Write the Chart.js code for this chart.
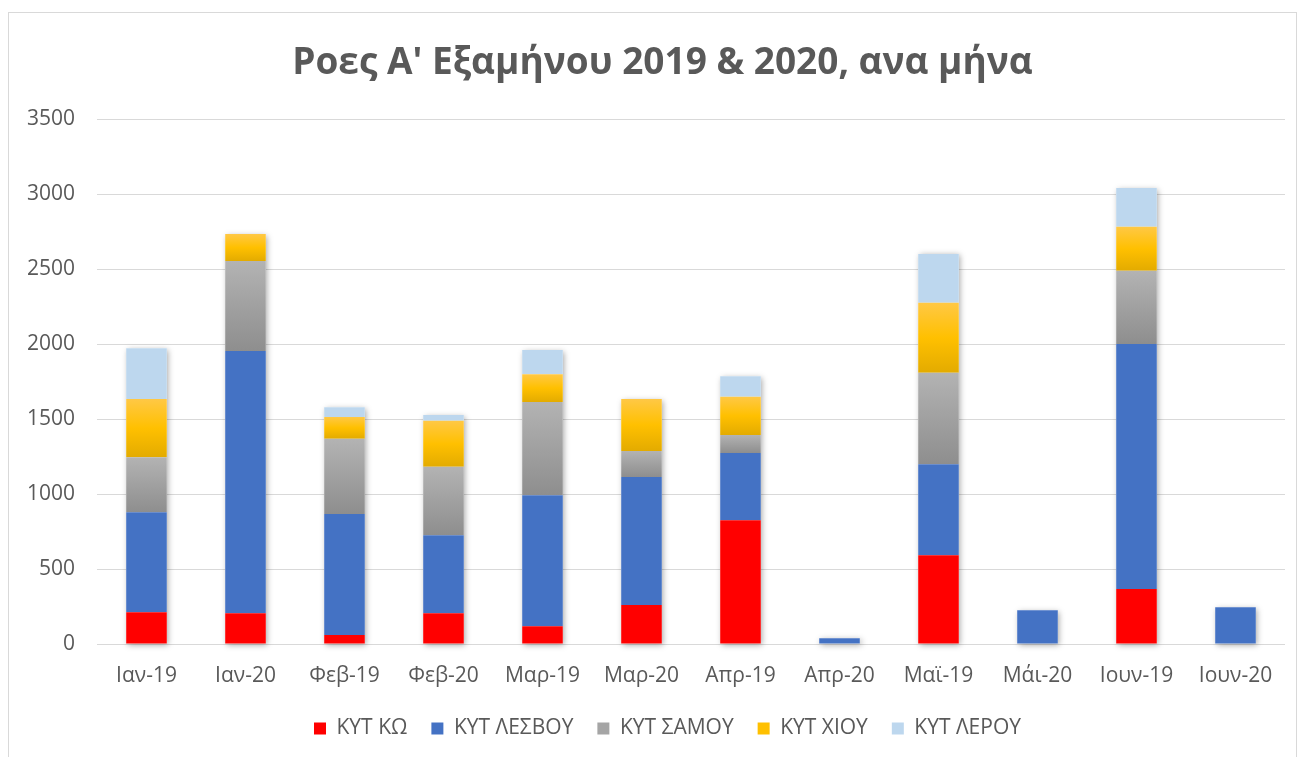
<!DOCTYPE html>
<html lang="el">
<head>
    <meta charset="UTF-8">
    <title>Ροες Α' Εξαμήνου 2019 & 2020</title>
    <script src="https://cdn.jsdelivr.net/npm/chart.js"></script>
    <style>
        html, body { margin: 0; padding: 0; background: #fff; }
        #wrap { width: 1303px; height: 757px; }
    </style>
</head>
<body>
<div id="wrap"><canvas id="roesChart" width="1303" height="757"></canvas></div>
<script>
    // Δεδομένα (εκτίμηση από την εικόνα)
    const months = ['Ιαν-19', 'Ιαν-20', 'Φεβ-19', 'Φεβ-20', 'Μαρ-19', 'Μαρ-20',
                    'Απρ-19', 'Απρ-20', 'Μαϊ-19', 'Μάι-20', 'Ιουν-19', 'Ιουν-20'];
    const kytKo     = [211, 205,  60, 205, 118, 260, 826,  0, 592,   0,  367,   0];
    const kytLesvou = [668, 1749, 808, 521, 875, 855, 449, 38, 608, 225, 1634, 245];
    const kytSamou  = [367, 601, 501, 456, 621, 173, 120,  0, 609,   0,  489,   0];
    const kytChiou  = [388, 180, 146, 307, 186, 346, 254,  0, 468,   0,  294,   0];
    const kytLerou  = [340,   0,  65,  38, 161,   0, 138,  0, 325,   0,  258,   0];
    const yTicks = [0, 500, 1000, 1500, 2000, 2500, 3000, 3500];

    const txt = '#595959';
    const font = "'Open Sans', sans-serif";
    const legendColors = ['#ff0000', '#4472c4', '#a5a5a5', '#ffc000', '#bdd7ee'];

    // κάθετη διαβάθμιση για κάθε τμήμα της στήλης
    function gradFill(stops, solid) {
        return function (c) {
            const chart = c.chart;
            if (c.type !== 'data' || !chart.chartArea) return solid;
            const ys = chart.scales.y;
            let base = 0;
            for (let i = 0; i < c.datasetIndex; i++) base += chart.data.datasets[i].data[c.dataIndex];
            const v = chart.data.datasets[c.datasetIndex].data[c.dataIndex];
            const top = ys.getPixelForValue(base + v), bot = ys.getPixelForValue(base);
            if (bot - top < 1) return solid;
            const g = chart.ctx.createLinearGradient(0, top, 0, bot);
            stops.forEach(s => g.addColorStop(s[0], s[1]));
            return g;
        };
    }

    const grayFill = gradFill([[0, '#b3b3b3'], [1, '#8e8e8e']], '#a5a5a5');
    const yellowFill = gradFill([[0, '#ffc845'], [0.5, '#ffc000'], [1, '#e3ab00']], '#ffc000');

    const frame = {
        id: 'frame',
        afterLayout(chart) {
            // υπόμνημα και τίτλος λίγο δεξιότερα όπως στο πρωτότυπο
            chart.legend.left += 15;
            chart.legend.right += 15;
            chart.titleBlock.left += 10;
            chart.titleBlock.right += 10;
        },
        beforeDraw(chart) {
            const ctx = chart.ctx;
            ctx.save();
            ctx.fillStyle = '#fff';
            ctx.fillRect(0, 0, chart.width, chart.height);
            ctx.strokeStyle = '#d9d9d9';
            ctx.lineWidth = 1;
            ctx.strokeRect(8.5, 12.5, 1288, 760);
            ctx.restore();
        },
        beforeDatasetsDraw(chart) {
            // απαλή σκιά πίσω από κάθε στήλη
            const ctx = chart.ctx;
            const metas = chart.data.datasets.map((d, i) => chart.getDatasetMeta(i));
            ctx.save();
            ctx.shadowColor = 'rgba(0,0,0,0.35)';
            ctx.shadowBlur = 6;
            ctx.shadowOffsetX = 1.5;
            ctx.shadowOffsetY = 1.5;
            ctx.fillStyle = '#fff';
            months.forEach((m, j) => {
                let top = null, base = null, x = 0, w = 0;
                metas.forEach((meta, i) => {
                    const el = meta.data[j];
                    if (!chart.data.datasets[i].data[j]) return;
                    if (base === null) base = el.base;
                    top = top === null ? el.y : Math.min(top, el.y);
                    x = el.x; w = el.width;
                });
                if (top !== null) ctx.fillRect(x - w / 2, top, w, base - top);
            });
            ctx.restore();
        }
    };

    new Chart(document.getElementById('roesChart'), {
        type: 'bar',
        data: {
            labels: months,
            datasets: [
                { label: 'ΚΥΤ ΚΩ', data: kytKo, backgroundColor: '#ff0000' },
                { label: 'ΚΥΤ ΛΕΣΒΟΥ', data: kytLesvou, backgroundColor: '#4472c4' },
                { label: 'ΚΥΤ ΣΑΜΟΥ', data: kytSamou, backgroundColor: grayFill },
                { label: 'ΚΥΤ ΧΙΟΥ', data: kytChiou, backgroundColor: yellowFill },
                { label: 'ΚΥΤ ΛΕΡΟΥ', data: kytLerou, backgroundColor: '#bdd7ee' }
            ]
        },
        options: {
            responsive: false,
            animation: false,
            datasets: { bar: { barPercentage: 0.41, categoryPercentage: 1 } },
            layout: { padding: { left: 20, right: 18, top: 0, bottom: 8 } },
            plugins: {
                title: {
                    display: true,
                    text: "Ροες Α' Εξαμήνου 2019 & 2020, ανα μήνα",
                    color: txt,
                    font: { family: font, size: 37, weight: 'bold', lineHeight: 1.2 },
                    padding: { top: 41, bottom: 34 }
                },
                legend: {
                    position: 'bottom',
                    labels: {
                        color: txt,
                        font: { family: font, size: 21 },
                        boxWidth: 12,
                        boxHeight: 12,
                        padding: 24,
                        generateLabels(chart) {
                            const items = Chart.defaults.plugins.legend.labels.generateLabels(chart);
                            items.forEach((it, i) => {
                                it.fillStyle = legendColors[i];
                                it.strokeStyle = legendColors[i];
                                it.lineWidth = 0;
                            });
                            return items;
                        }
                    }
                },
                tooltip: { enabled: false }
            },
            scales: {
                x: {
                    stacked: true,
                    grid: { display: false },
                    border: { display: false },
                    ticks: { color: txt, font: { family: font, size: 21 }, padding: 11, maxRotation: 0 },
                    afterFit(s) { s.height = 50; }
                },
                y: {
                    stacked: true,
                    min: 0,
                    max: 3500,
                    afterBuildTicks(s) { s.ticks = yTicks.map(v => ({ value: v })); },
                    grid: { color: '#d9d9d9', lineWidth: 1, drawTicks: false },
                    border: { display: false },
                    ticks: {
                        color: txt,
                        font: { family: font, size: 21 },
                        padding: 22,
                        callback: v => String(v)
                    },
                    afterFit(s) { s.width = 77; }
                }
            }
        },
        plugins: [frame]
    });
</script>
</body>
</html>
